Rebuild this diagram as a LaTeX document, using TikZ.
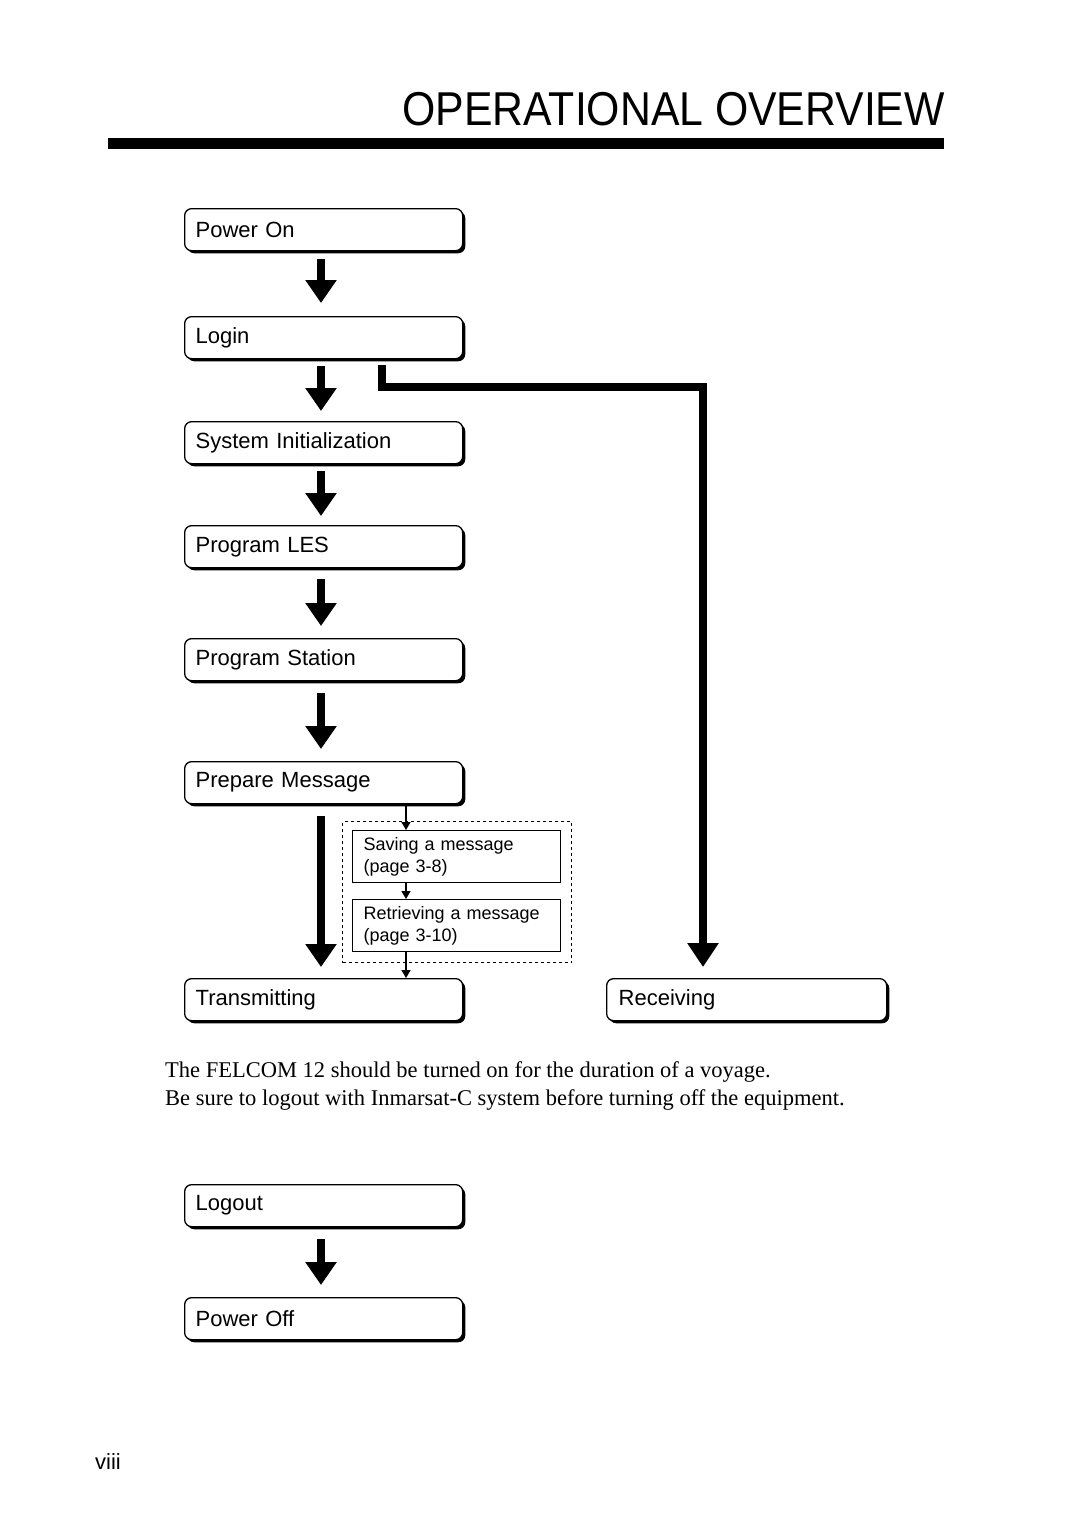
\documentclass[tikz,border=0pt]{standalone}
\usepackage{fontspec}
\setmainfont{Liberation Serif}
\setsansfont{Liberation Sans}
\usetikzlibrary{arrows.meta,shadows,calc}
\tikzset{
  flowbox/.style={draw, fill=white, rounded corners=7pt, line width=1.3pt,
    minimum width=278pt, minimum height=42pt, anchor=north west,
    inner xsep=11pt, text width=256pt, align=left,
    font=\sffamily\fontsize{22}{26}\selectfont,
    drop shadow={shadow xshift=2.6pt, shadow yshift=-2.6pt, fill=black, opacity=1}},
  subbox/.style={draw, fill=white, line width=1.3pt,
    minimum width=208pt, minimum height=52pt, anchor=north west,
    inner xsep=11pt, text width=186pt, align=left,
    font=\sffamily\fontsize{18}{22}\selectfont},
  bigarrow/.style={line width=8pt, -{Triangle[length=23pt,width=30pt]}},
  routearrow/.style={line width=8pt, miter limit=10, -{Triangle[length=24pt,width=30pt]}},
  smallarrow/.style={line width=1.5pt, -{Triangle[length=8pt,width=9pt]}},
}
\begin{document}
\begin{tikzpicture}[x=1pt,y=-1pt]
\useasboundingbox (0,0) rectangle (1080,1528);
\fill[white] (0,0) rectangle (1080,1528);

% title and rule
\node[anchor=south east, inner sep=0pt, font=\sffamily\fontsize{47.5}{50}\selectfont] (title) at (945,126)
  {\scalebox{0.9}[1]{OPERATIONAL OVERVIEW}};
\fill (108,138) rectangle (944,149);

% main boxes
\node[flowbox] (pon)   at (184,208) {Power On};
\node[flowbox] (login) at (184,316) {Login};
\node[flowbox] (sys)   at (184,421) {System Initialization};
\node[flowbox] (les)   at (184,525) {Program LES};
\node[flowbox] (sta)   at (184,638) {Program Station};
\node[flowbox] (prep)  at (184,761) {Prepare Message};
\node[flowbox] (trans) at (184,978) {Transmitting};
\node[flowbox, minimum width=280pt] (recv) at (606,978) {Receiving};
\node[flowbox] (logout) at (184,1184) {Logout};
\node[flowbox] (poff)  at (184,1297) {Power Off};

% dashed group and sub boxes
\node[draw, dashed, line width=1.1pt, minimum width=229pt, minimum height=141pt,
  anchor=north west, inner sep=0pt] (grp) at (342,821) {};
\node[subbox] (save) at (352,830) {Saving a message\\(page 3-8)};
\node[subbox] (retr) at (352,899) {Retrieving a message\\(page 3-10)};

% big arrows
\coordinate (ax) at (321,0);
\draw[bigarrow] ([yshift=-8pt]pon.south -| ax)   -- ([yshift=13pt]login.north -| ax);
\draw[bigarrow] ([yshift=-7pt]login.south -| ax) -- ([yshift=10pt]sys.north -| ax);
\draw[bigarrow] ([yshift=-7pt]sys.south -| ax)   -- ([yshift=9pt]les.north -| ax);
\draw[bigarrow] ([yshift=-11pt]les.south -| ax)  -- ([yshift=12pt]sta.north -| ax);
\draw[bigarrow] ([yshift=-12pt]sta.south -| ax)  -- ([yshift=12pt]prep.north -| ax);
\draw[bigarrow] ([yshift=-12pt]prep.south -| ax) -- ([yshift=11pt]trans.north -| ax);
\draw[bigarrow] ([yshift=-12pt]logout.south -| ax) -- ([yshift=12pt]poff.north -| ax);

% login to receiving route
\coordinate (rs) at (382,0);
\coordinate (turn) at (703,387);
\draw[routearrow] ([yshift=-6pt]login.south -| rs) |- (turn) -- ([yshift=11pt]recv.north -| turn);

% small arrows
\coordinate (sx) at (406,0);
\draw[smallarrow] (prep.south -| sx) -- (save.north -| sx);
\draw[smallarrow] (save.south -| sx) -- (retr.north -| sx);
\draw[smallarrow] (retr.south -| sx) -- (trans.north -| sx);

% note text
\node[anchor=north west, inner sep=0pt, align=left, font=\fontsize{22.5}{28}\selectfont] (note) at (165,1061)
  {The FELCOM 12 should be turned on for the duration of a voyage.\\
   Be sure to logout with Inmarsat-C system before turning off the equipment.};

% page number
\node[anchor=south west, inner sep=0pt, font=\sffamily\fontsize{22}{24}\selectfont] (pg) at (95,1470) {viii};
\end{tikzpicture}
\end{document}
